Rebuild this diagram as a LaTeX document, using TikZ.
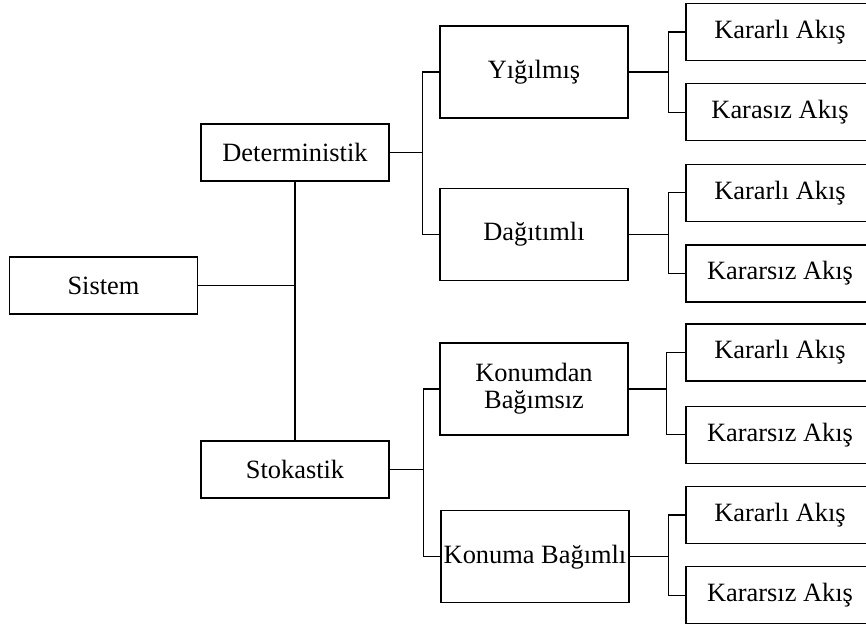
\documentclass[tikz,border=0pt]{standalone}
\usepackage{fontspec}
\setmainfont{Liberation Serif}

\tikzset{
  kutu/.style={draw, line width=1pt, minimum width=141pt, minimum height=42.75pt, inner sep=1pt, align=center, font=\fontsize{19.8}{20.5}\selectfont},
  uzunkutu/.style={kutu, minimum height=69pt},
  baglanti/.style={line width=1pt},
}

\begin{document}
\begin{tikzpicture}[x=0.75pt,y=0.75pt,yscale=-1,xscale=1]
\clip (0,0) rectangle (866,625);

% Text Node
\node [kutu] (sistem) at (103.5,285.5) {Sistem};
% Text Node
\node [kutu] (det) at (295,152.5) {Deterministik};
% Text Node
\node [kutu] (sto) at (295,469.5) {Stokastik};
% Text Node
\node [uzunkutu] (yig) at (534,72) {Yığılmış};
% Text Node
\node [uzunkutu] (dag) at (534,234.5) {Dağıtımlı};
% Text Node
\node [uzunkutu] (kbag) at (534,389) {Konumdan\\Bağımsız};
% Text Node
\node [uzunkutu] (kbagli) at (535,556.7) {Konuma Bağımlı};

% Text Node
\node [kutu] (yig1) at (780,32) {Kararlı Akış};
\node [kutu] (yig2) at (780,112.2) {Karasız Akış};
\node [kutu] (dag1) at (780,192.7) {Kararlı Akış};
\node [kutu] (dag2) at (780,273.5) {Kararsız Akış};
\node [kutu] (kbag1) at (780,352.4) {Kararlı Akış};
\node [kutu] (kbag2) at (780,434.7) {Kararsız Akış};
\node [kutu] (kbagli1) at (780,515) {Kararlı Akış};
\node [kutu] (kbagli2) at (780,595.3) {Kararsız Akış};

%Straight Lines
\draw [baglanti] (det) -- (sto);
\draw [baglanti] (sistem.east) -- (sistem.east -| det.south);

\draw [baglanti] (det.east) -- ++(33,0) coordinate (jdet);
\draw [baglanti] (yig.west) -| (jdet) |- (dag.west);
\draw [baglanti] (sto.east) -- ++(34,0) coordinate (jsto);
\draw [baglanti] (kbag.west) -| (jsto) |- (kbagli.west);

\draw [baglanti] (yig.east) -- ++(40,0) coordinate (jyig);
\draw [baglanti] (yig1.west) -| (jyig) |- (yig2.west);
\draw [baglanti] (dag.east) -- ++(40,0) coordinate (jdag);
\draw [baglanti] (dag1.west) -| (jdag) |- (dag2.west);
\draw [baglanti] (kbag.east) -- ++(38,0) coordinate (jkbag);
\draw [baglanti] (kbag1.west) -| (jkbag) |- (kbag2.west);
\draw [baglanti] (kbagli.east) -- ++(39,0) coordinate (jkbagli);
\draw [baglanti] (kbagli1.west) -| (jkbagli) |- (kbagli2.west);

\end{tikzpicture}
\end{document}
